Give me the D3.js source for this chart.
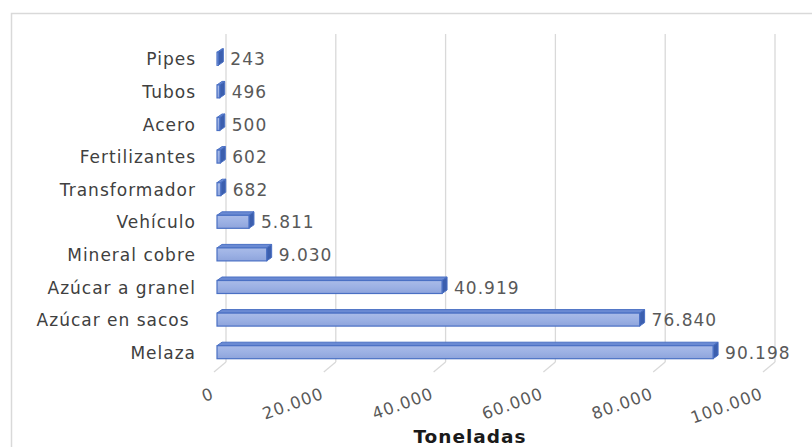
<!DOCTYPE html>
<html><head><meta charset="utf-8">
<script src="https://cdn.jsdelivr.net/npm/d3@7"></script>
<style>html,body{margin:0;padding:0;background:#fff;}svg{display:block;}text{white-space:pre;}</style>
</head><body>
<svg id="c" width="812" height="447"></svg>
<script>
const categories = ["Pipes","Tubos","Acero","Fertilizantes","Transformador","Vehículo","Mineral cobre","Azúcar a granel","Azúcar en sacos ","Melaza"];
const values = [243,496,500,602,682,5811,9030,40919,76840,90198];
const ticks = [0,20000,40000,60000,80000,100000];
const axisTitle = "Toneladas";

const fmt = v => d3.format(",")(v).replace(/,/g,".");
const svg = d3.select("#c");
const font = "DejaVu Sans, Verdana, sans-serif";

// chart border
svg.append("rect").attr("x",11.5).attr("y",13.5).attr("width",830).attr("height",460)
  .attr("fill","none").attr("stroke","#d9d9d9").attr("stroke-width",1.5);

const xBack = d3.scaleLinear().domain([0,100000]).range([226,775]);
const xFront = d3.scaleLinear().domain([0,100000]).range([217,767]);
const y = d3.scaleBand().domain(categories).range([43,369]);
const dx = 5, dy = -3.5;
const gTop = 34, gBot = 362;

// gridlines (back wall) and floor ticks
const grid = svg.append("g");
ticks.forEach(t=>{
  const gx = xBack(t);
  grid.append("line").attr("x1",gx).attr("x2",gx).attr("y1",gTop).attr("y2",gBot)
    .attr("stroke","#d9d9d9").attr("stroke-width",1.3);
  grid.append("line").attr("x1",gx).attr("y1",gBot).attr("x2",gx-12).attr("y2",gBot+10)
    .attr("stroke","#d9d9d9").attr("stroke-width",1.3);
});

// tick labels
ticks.forEach(t=>{
  const gx = xBack(t), ty = 398;
  svg.append("text").attr("x",gx-11).attr("y",ty)
    .attr("transform",`rotate(-20,${gx-11},${ty})`)
    .attr("text-anchor","end").attr("font-family",font).attr("font-size",16.5)
    .attr("letter-spacing",1)
    .attr("fill","#595959").text(fmt(t));
});

// gradient
const defs = svg.append("defs");
const lg = defs.append("linearGradient").attr("id","fg").attr("x1",0).attr("y1",0).attr("x2",0).attr("y2",1);
lg.append("stop").attr("offset","0%").attr("stop-color","#a9bbe8");
lg.append("stop").attr("offset","50%").attr("stop-color","#9cb1e4");
lg.append("stop").attr("offset","100%").attr("stop-color","#8ea4dc");

// bars
const bars = svg.append("g");
categories.forEach((c,i)=>{
  const v = values[i];
  const cy = y(c) + y.bandwidth()/2;
  const x0 = xFront(0), x1 = xFront(v);
  const top = cy-7, bot = cy+6;
  bars.append("path").attr("d",`M${x0},${top}L${x0+dx},${top+dy}L${x1+dx},${top+dy}L${x1},${top}Z`)
    .attr("fill","#6a8ad3").attr("stroke","#4a70c4").attr("stroke-width",1);
  bars.append("path").attr("d",`M${x1},${top}L${x1+dx},${top+dy}L${x1+dx},${bot+dy}L${x1},${bot}Z`)
    .attr("fill","#3c5fae").attr("stroke","#4a70c4").attr("stroke-width",1);
  bars.append("rect").attr("x",x0).attr("y",top).attr("width",Math.max(0,x1-x0)).attr("height",bot-top)
    .attr("fill","url(#fg)").attr("stroke","#4a70c4").attr("stroke-width",1.2);
  svg.append("text").attr("x",x1+12).attr("y",cy).attr("dy","0.36em")
    .attr("font-family",font).attr("font-size",17).attr("letter-spacing",1)
    .attr("fill","#595959").text(fmt(v));
  svg.append("text").attr("x",196).attr("y",cy).attr("dy","0.36em").attr("text-anchor","end")
    .attr("font-family",font).attr("font-size",17).attr("letter-spacing",1)
    .attr("fill","#404040").text(c);
});

svg.append("text").attr("x",470).attr("y",443).attr("text-anchor","middle")
  .attr("font-family",font).attr("font-size",18.5).attr("font-weight","bold").attr("letter-spacing",1)
  .attr("fill","#1a1a1a").text(axisTitle);
</script>
</body></html>
